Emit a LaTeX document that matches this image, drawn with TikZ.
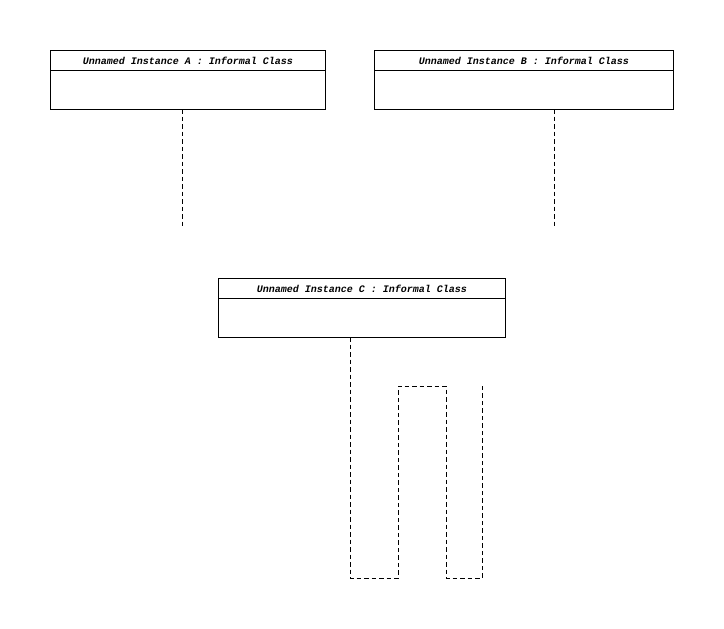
\documentclass[tikz,border=0pt]{standalone}
\usepackage{fontspec}
\setmonofont{Liberation Mono}
\usepackage{tikz}

\tikzset{
  objbox/.style={draw,line width=1pt,anchor=north west,inner sep=0pt},
  objtitle/.style={font=\ttfamily\bfseries\itshape\fontsize{10}{11}\selectfont,inner sep=0pt},
  lifeline/.style={line width=1pt,dash pattern=on 4.5pt off 3pt}
}

\begin{document}
\begin{tikzpicture}[x=1pt,y=-1pt]

  \useasboundingbox (0,0) rectangle (724,629);

  \node[objbox,minimum width=275pt,minimum height=59pt] (instA) at (50,50) {};
  \node[objbox,minimum width=299pt,minimum height=59pt] (instB) at (374,50) {};
  \node[objbox,minimum width=287pt,minimum height=59pt] (instC) at (218,278) {};

  \draw[line width=1pt] ([yshift=-20pt]instA.north west) -- ([yshift=-20pt]instA.north east);
  \draw[line width=1pt] ([yshift=-20pt]instB.north west) -- ([yshift=-20pt]instB.north east);
  \draw[line width=1pt] ([yshift=-20pt]instC.north west) -- ([yshift=-20pt]instC.north east);

  \node[objtitle] (titleA) at ([yshift=-10.5pt]instA.north) {Unnamed Instance A : Informal Class};
  \node[objtitle] (titleB) at ([yshift=-10.5pt]instB.north) {Unnamed Instance B : Informal Class};
  \node[objtitle] (titleC) at ([yshift=-10.5pt]instC.north) {Unnamed Instance C : Informal Class};

  \coordinate (lifeA) at (182,109);
  \coordinate (endA) at (182,228);
  \coordinate (lifeB) at (554,109);
  \coordinate (endB) at (554,228);
  \coordinate (lifeC) at (350,337);
  \coordinate (endC) at (482,386);

  \draw[lifeline] (lifeA) -- (endA);
  \draw[lifeline] (lifeB) -- (endB);
  \draw[lifeline] (lifeC) -- (350,578) -- (398,578) -- (398,386) -- (446,386)
    -- (446,578) -- (482,578) -- (endC);

\end{tikzpicture}
\end{document}
